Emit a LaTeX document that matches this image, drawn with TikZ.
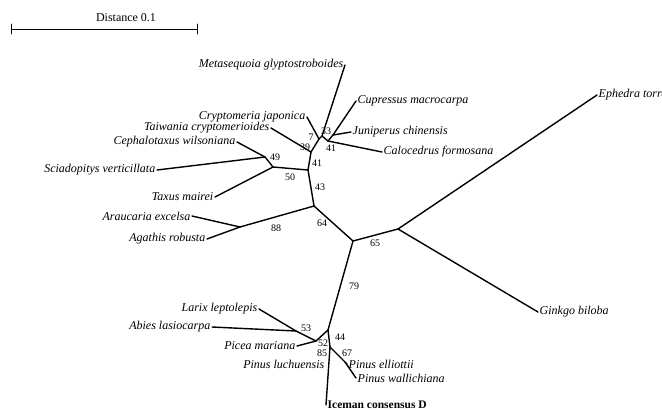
\documentclass[tikz,border=0pt]{standalone}
\usepackage{fontspec}
\setmainfont{Liberation Serif}
\begin{document}
\begin{tikzpicture}[
    x=1pt, y=-1pt, line join=round, line cap=round,
    br/.style={line width=1.4pt},
    taxon/.style={font=\fontsize{12}{14}\selectfont\itshape, inner sep=1.5pt},
    bs/.style={font=\fontsize{10}{12}\selectfont, inner sep=0pt}]
  \useasboundingbox (0,0) rectangle (662,410);
  % Escala
  \draw[line width=0.8pt] (11,29) -- (197,29) (11,24) -- (11,34) (197,24) -- (197,34);
  \node[font=\fontsize{12}{14}\selectfont] (dist) at (126,18) {Distance 0.1};
  % Nudos internos
  \coordinate (n49) at (265,157);
  \coordinate (n50) at (273,167);
  \coordinate (n41L) at (308,170);
  \coordinate (n39) at (311,152);
  \coordinate (n7) at (319,139);
  \coordinate (n33) at (322,136);
  \coordinate (n41U) at (328,141);
  \coordinate (nCJ) at (333,135);
  \coordinate (n64) at (314,206);
  \coordinate (n88) at (240,227);
  \coordinate (nc) at (353,241);
  \coordinate (n65) at (398,229);
  \coordinate (n44) at (328,330);
  \coordinate (n52) at (316,341);
  \coordinate (n53) at (296,331);
  \coordinate (n85) at (330,347);
  \coordinate (n67) at (345,362);
  % Puntas (taxones)
  \coordinate (tMeta) at (345,65);
  \node[taxon, anchor=east] (lMeta) at (tMeta) {Metasequoia glyptostroboides};
  \coordinate (tCupr) at (356,101);
  \node[taxon, anchor=west] (lCupr) at (tCupr) {Cupressus macrocarpa};
  \coordinate (tJuni) at (351,132);
  \node[taxon, anchor=west] (lJuni) at (tJuni) {Juniperus chinensis};
  \coordinate (tCalo) at (382,152);
  \node[taxon, anchor=west] (lCalo) at (tCalo) {Calocedrus formosana};
  \coordinate (tCryp) at (307,117);
  \node[taxon, anchor=east] (lCryp) at (tCryp) {Cryptomeria japonica};
  \coordinate (tTaiw) at (271,128);
  \node[taxon, anchor=east] (lTaiw) at (tTaiw) {Taiwania cryptomerioides};
  \coordinate (tCeph) at (237,142);
  \node[taxon, anchor=east] (lCeph) at (tCeph) {Cephalotaxus wilsoniana};
  \coordinate (tScia) at (157,170);
  \node[taxon, anchor=east] (lScia) at (tScia) {Sciadopitys verticillata};
  \coordinate (tTaxu) at (215,197);
  \node[taxon, anchor=east] (lTaxu) at (tTaxu) {Taxus mairei};
  \coordinate (tArau) at (192,216);
  \node[taxon, anchor=east] (lArau) at (tArau) {Araucaria excelsa};
  \coordinate (tAgat) at (207,239);
  \node[taxon, anchor=east] (lAgat) at (tAgat) {Agathis robusta};
  \coordinate (tEphe) at (597,95);
  \node[taxon, anchor=west] (lEphe) at (tEphe) {Ephedra torreyana};
  \coordinate (tGink) at (538,312);
  \node[taxon, anchor=west] (lGink) at (tGink) {Ginkgo biloba};
  \coordinate (tLari) at (259,309);
  \node[taxon, anchor=east] (lLari) at (tLari) {Larix leptolepis};
  \coordinate (tAbie) at (212,327);
  \node[taxon, anchor=east] (lAbie) at (tAbie) {Abies lasiocarpa};
  \coordinate (tPice) at (297,346);
  \node[taxon, anchor=east] (lPice) at (tPice) {Picea mariana};
  \node[taxon, anchor=east] (lLuch) at (326,364) {Pinus luchuensis};
  \coordinate (tElli) at (347,364);
  \node[taxon, anchor=west] (lElli) at (tElli) {Pinus elliottii};
  \coordinate (tWall) at (356,378);
  \node[taxon, anchor=west] (lWall) at (tWall) {Pinus wallichiana};
  \coordinate (tIce) at (326,405);
  \node[anchor=west, inner sep=1.5pt, font=\fontsize{11.5}{13}\selectfont\bfseries] (lIce) at (tIce) {Iceman consensus D};
  % Ramas
  \foreach \a/\b in {n49/tCeph, n49/tScia, n49/n50, n50/tTaxu, n50/n41L,
      n41L/n39, n41L/n64, n39/tTaiw, n39/n7, n7/tCryp, n7/n33, n33/tMeta,
      n33/n41U, n41U/tCalo, n41U/nCJ, nCJ/tCupr, nCJ/tJuni, n64/n88,
      n88/tArau, n88/tAgat, n64/nc, nc/n65, n65/tEphe, n65/tGink, nc/n44,
      n44/n52, n52/n53, n53/tLari, n53/tAbie, n52/tPice, n44/n85, n85/tIce,
      n85/n67, n67/tWall, n67/tElli}
    \draw[br] (\a) -- (\b);
  % Valores bootstrap
  \node[bs] (b33) at (326,131) {33};
  \node[bs] (b7) at (311,137) {7};
  \node[bs] (b39) at (305,147) {39};
  \node[bs] (b41a) at (331,148) {41};
  \node[bs] (b41b) at (317,163) {41};
  \node[bs] (b49) at (275,157) {49};
  \node[bs] (b50) at (290,177) {50};
  \node[bs] (b43) at (320,187) {43};
  \node[bs] (b88) at (276,228) {88};
  \node[bs] (b64) at (322,223) {64};
  \node[bs] (b65) at (375,243) {65};
  \node[bs] (b79) at (354,286) {79};
  \node[bs] (b53) at (306,328) {53};
  \node[bs] (b44) at (340,337) {44};
  \node[bs] (b52) at (323,343) {52};
  \node[bs] (b85) at (322,353) {85};
  \node[bs] (b67) at (347,353) {67};
\end{tikzpicture}
\end{document}
